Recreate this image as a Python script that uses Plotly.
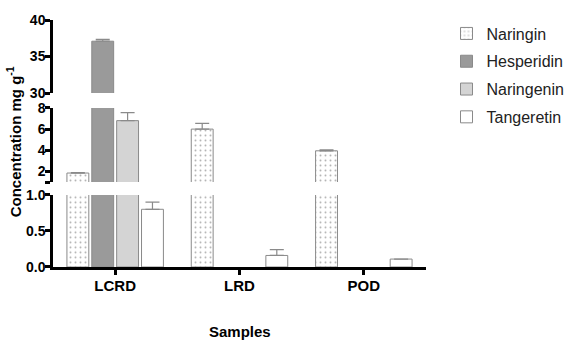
import plotly.graph_objects as go

samples = ["LCRD", "LRD", "POD"]
series_names = ["Naringin", "Hesperidin", "Naringenin", "Tangeretin"]
naringin = [1.85, 6.0, 3.95]
naringin_err = [0.05, 0.55, 0.08]
hesperidin = [37.1, None, None]
hesperidin_err = [0.25, 0.0, 0.0]
naringenin = [6.8, None, None]
naringenin_err = [0.75, 0.0, 0.0]
tangeretin = [0.80, 0.16, 0.11]
tangeretin_err = [0.10, 0.08, 0.0]

values = [naringin, hesperidin, naringenin, tangeretin]
errors = [naringin_err, hesperidin_err, naringenin_err, tangeretin_err]
fills = ["#ffffff", "#9a9a9a", "#d4d4d4", "#ffffff"]
FONT = "Liberation Sans, Arial, sans-serif"

segments = {"y": (0, 1.0), "y2": (1, 8), "y3": (30, 40)}

fig = go.Figure()
for yax, (lo, hi) in segments.items():
    for i, name in enumerate(series_names):
        marker = dict(color=fills[i], line=dict(color="#8a8a8a", width=1))
        if i == 0:
            marker["pattern"] = dict(shape=".", fgcolor="#666666", bgcolor="#ffffff",
                                     size=5, solidity=0.12)
        # show error bars only in the segment where the bar top lies
        err = [e if (v is not None and lo <= v <= hi) else None
               for v, e in zip(values[i], errors[i])]
        zeros = [0 if e is not None else None for e in err]
        fig.add_trace(go.Bar(
            x=samples, y=values[i], name=name, marker=marker,
            xaxis="x", yaxis=yax, legendgroup=name, showlegend=(yax == "y"),
            error_y=dict(type="data", symmetric=False, array=err,
                         arrayminus=zeros, color="#8a8a8a", thickness=1.2, width=7),
        ))

axis_common = dict(showgrid=False, zeroline=False, showline=True, linecolor="black",
                   linewidth=2.5, ticks="outside", ticklen=5, tickwidth=2.5,
                   tickcolor="black", anchor="x", ticklabelstandoff=-3,
                   tickfont=dict(family=FONT, size=14, color="black", weight="bold"))

fig.update_layout(
    width=581, height=340,
    margin=dict(l=53, r=149, t=17, b=73),
    paper_bgcolor="white", plot_bgcolor="white",
    barmode="group", bargap=0.2, bargroupgap=0.12,
    showlegend=True,
    legend=dict(x=1.055, y=1.014, xanchor="left", yanchor="top",
                font=dict(family=FONT, size=16, color="#222"),
                tracegroupgap=4, itemwidth=30, bgcolor="rgba(0,0,0,0)"),
    xaxis=dict(range=[-0.5, 2.5], anchor="y", showgrid=False, zeroline=False,
               showline=True, linecolor="black", linewidth=2.5, ticks="outside",
               ticklen=5, tickwidth=2.5, tickcolor="black", ticklabelstandoff=-2,
               tickfont=dict(family=FONT, size=15, color="black", weight="bold")),
    yaxis=dict(domain=[0, 0.292], range=[0, 1.0], tickvals=[0, 0.5, 1.0],
               ticktext=["0.0", "0.5", "1.0"], **axis_common),
    yaxis2=dict(domain=[0.344, 0.644], range=[1, 8], tickvals=[1, 2, 4, 6, 8],
                ticktext=["", "2", "4", "6", "8"], **axis_common),
    yaxis3=dict(domain=[0.704, 1.0], range=[30, 40], tickvals=[30, 35, 40],
                ticktext=["30", "35", "40"], **axis_common),
    annotations=[
        dict(text="Concentration mg g<sup>-1</sup>", xref="paper", yref="paper",
             x=-0.105, y=0.508, xanchor="center", yanchor="middle", textangle=-90,
             showarrow=False, font=dict(family=FONT, size=15, color="black", weight="bold")),
        dict(text="Samples", xref="paper", yref="paper", x=0.5, y=-0.26,
             xanchor="center", yanchor="middle", showarrow=False,
             font=dict(family=FONT, size=15, color="black", weight="bold")),
    ],
)

fig.write_html("out.html")
